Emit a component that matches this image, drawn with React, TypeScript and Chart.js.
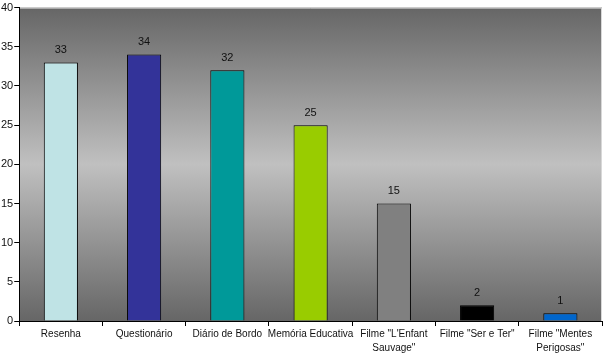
import React, { useEffect, useRef } from "react";
import { Chart, registerables } from "chart.js";

Chart.register(...registerables);

const categories: (string | string[])[] = [
  "Resenha",
  "Questionário",
  "Diário de Bordo",
  "Memória Educativa",
  ["Filme \"L'Enfant", "Sauvage\""],
  "Filme \"Ser e Ter\"",
  ["Filme \"Mentes", "Perigosas\""],
];
const values = [33, 34, 32, 25, 15, 2, 1];
const barColors = ["#bfe3e5", "#333399", "#009999", "#99cc00", "#808080", "#000000", "#0066cc"];
const yTicks = { min: 0, max: 40, step: 5 };

const FONT = "'Liberation Sans', Arial, sans-serif";

const bgPlugin = {
  id: "bgGradient",
  beforeDraw(chart: any) {
    const { ctx, chartArea } = chart;
    if (!chartArea) return;
    const g = ctx.createLinearGradient(0, chartArea.top, 0, chartArea.bottom);
    g.addColorStop(0, "#666666");
    g.addColorStop(0.5, "#c0c0c0");
    g.addColorStop(1, "#666666");
    ctx.save();
    ctx.fillStyle = g;
    ctx.fillRect(chartArea.left, chartArea.top, chartArea.right - chartArea.left, chartArea.bottom - chartArea.top);
    ctx.strokeStyle = "#d8d8d8";
    ctx.lineWidth = 1;
    ctx.beginPath();
    ctx.moveTo(chartArea.left, chartArea.top + 0.5);
    ctx.lineTo(chartArea.right - 0.5, chartArea.top + 0.5);
    ctx.lineTo(chartArea.right - 0.5, chartArea.bottom);
    ctx.stroke();
    ctx.restore();
  },
};

const labelPlugin = {
  id: "valueLabels",
  afterDatasetsDraw(chart: any) {
    const { ctx } = chart;
    const meta = chart.getDatasetMeta(0);
    ctx.save();
    ctx.fillStyle = "#111111";
    ctx.font = `11px ${FONT}`;
    ctx.textAlign = "center";
    ctx.textBaseline = "bottom";
    meta.data.forEach((el: any, i: number) => {
      ctx.fillText(String(values[i]), el.x, el.y - 7);
    });
    ctx.restore();
  },
};

export default function App() {
  const ref = useRef<HTMLCanvasElement>(null);
  useEffect(() => {
    if (!ref.current) return;
    const chart = new Chart(ref.current, {
      type: "bar",
      data: {
        labels: categories,
        datasets: [
          {
            data: values,
            backgroundColor: barColors,
            borderColor: "#000000",
            borderWidth: 1,
            barPercentage: 0.82,
            categoryPercentage: 0.5,
          },
        ],
      },
      options: {
        animation: false,
        responsive: false,
        maintainAspectRatio: false,
        layout: { autoPadding: false, padding: { top: 3, right: 4, bottom: 0, left: 0 } },
        plugins: { legend: { display: false }, tooltip: { enabled: false } },
        scales: {
          x: {
            grid: {
              display: true,
              drawOnChartArea: false,
              offset: true,
              tickLength: 5,
              color: "#000000",
            },
            border: { display: true, color: "#000000" },
            ticks: {
              color: "#111111",
              font: { family: FONT, size: 10, lineHeight: 1.4 },
              padding: 1,
              maxRotation: 0,
              autoSkip: false,
            },
          },
          y: {
            min: yTicks.min,
            max: yTicks.max,
            grid: {
              display: true,
              drawOnChartArea: false,
              tickLength: 5,
              color: "#000000",
            },
            border: { display: true, color: "#000000" },
            ticks: {
              stepSize: yTicks.step,
              color: "#111111",
              font: { family: FONT, size: 11 },
              padding: 1,
            },
          },
        },
      },
      plugins: [bgPlugin, labelPlugin],
    });
    return () => chart.destroy();
  }, []);
  return (
    <div style={{ position: "fixed", left: 0, top: 0, width: 606, height: 356, background: "#fff" }}>
      <canvas ref={ref} width={606} height={356} style={{ display: "block" }} />
    </div>
  );
}
